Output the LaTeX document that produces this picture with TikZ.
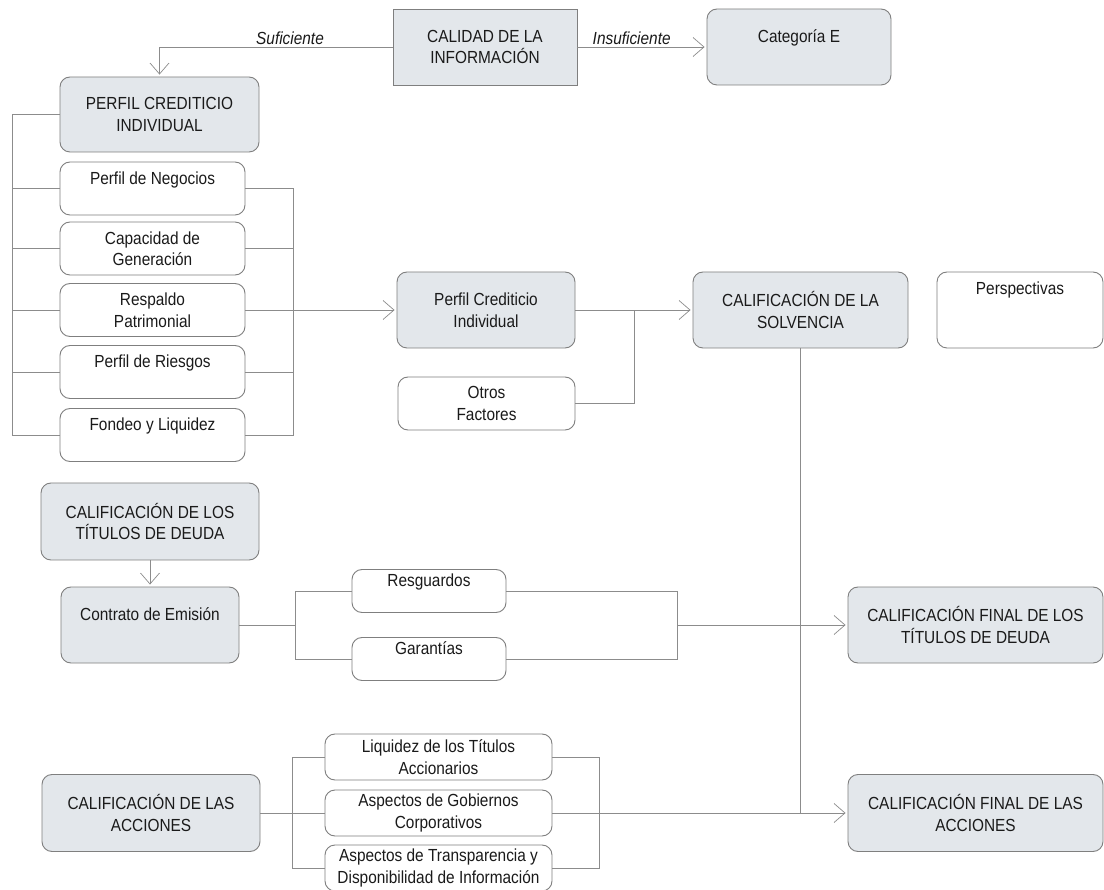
\documentclass[tikz,border=0pt]{standalone}
\usepackage{fontspec}
\setmainfont{Liberation Sans}[FakeStretch=0.88]
\usetikzlibrary{arrows.meta}
\definecolor{boxfill}{HTML}{E3E7EB}
\definecolor{boxedge}{HTML}{7F7F7F}
\definecolor{wire}{HTML}{8C8C8C}
\definecolor{ink}{HTML}{1A1A1A}
\tikzset{
  whitebox/.style={draw=boxedge, line width=0.9pt, rounded corners=10pt, align=center, inner sep=0pt, text=ink},
  graybox/.style={whitebox, fill=boxfill},
  factor/.style={whitebox, minimum width=185, minimum height=53},
  wireline/.style={draw=wire, line width=0.9pt},
  flow/.style={wireline, -{Straight Barb[length=11pt,width=19pt,line width=0.7pt]}, shorten >=2pt},
  branch/.style={font=\fontsize{17.5}{21.5}\selectfont\itshape, text=ink, inner sep=2pt}
}
\begin{document}
\begin{tikzpicture}[x=1pt, y=-1pt, font=\fontsize{17.5}{21.5}\selectfont]
    \path[use as bounding box, fill=white] (0,0) rectangle (1104,890);
    \node (calidad) at (485,47) [graybox, rounded corners=0pt, minimum width=184, minimum height=76] {CALIDAD DE LA\\INFORMACIÓN};
    \node (catE) at (799,47) [graybox, minimum width=184, minimum height=76] {Categoría E\\~};
    \node (pcimain) at (159.5,114.5) [graybox, minimum width=199, minimum height=75] {PERFIL CREDITICIO\\INDIVIDUAL};
    \node (neg) at (152.5,188.5) [factor] {Perfil de Negocios\\~};
    \node (cap) at (152.5,248.5) [factor] {Capacidad de\\Generación};
    \node (resp) at (152.5,310) [factor] {Respaldo\\Patrimonial};
    \node (ries) at (152.5,372) [factor] {Perfil de Riesgos\\~};
    \node (fondeo) at (152.5,435) [factor] {Fondeo y Liquidez\\~};
    \node (pci) at (486,310) [graybox, minimum width=178, minimum height=76] {Perfil Crediticio\\Individual};
    \node (otros) at (486.5,403.5) [whitebox, minimum width=177, minimum height=53] {Otros\\Factores};
    \node (solv) at (800.5,310) [graybox, minimum width=215, minimum height=76] {CALIFICACIÓN DE LA\\SOLVENCIA};
    \node (persp) at (1020,310) [whitebox, minimum width=166, minimum height=76] {Perspectivas\\~\\~};
    \node (deuda) at (150,521.5) [graybox, minimum width=218, minimum height=77] {CALIFICACIÓN DE LOS\\TÍTULOS DE DEUDA};
    \node (contrato) at (150,625) [graybox, minimum width=178, minimum height=76] {Contrato de Emisión\\~};
    \node (resg) at (429,591) [whitebox, minimum width=154, minimum height=43] {Resguardos\\~};
    \node (garan) at (429,659) [whitebox, minimum width=154, minimum height=43] {Garantías\\~};
    \node (finaldeuda) at (975.5,625) [graybox, minimum width=255, minimum height=76] {CALIFICACIÓN FINAL DE LOS\\TÍTULOS DE DEUDA};
    \node (acciones) at (151,813) [graybox, minimum width=218, minimum height=77] {CALIFICACIÓN DE LAS\\ACCIONES};
    \node (liq) at (438.5,757) [whitebox, minimum width=227, minimum height=46] {Liquidez de los Títulos\\Accionarios};
    \node (gob) at (438.5,813) [whitebox, minimum width=227, minimum height=46] {Aspectos de Gobiernos\\Corporativos};
    \node (transp) at (438.5,868) [whitebox, minimum width=227, minimum height=46] {Aspectos de Transparencia y\\Disponibilidad de Información};
    \node (finalacc) at (975.5,813) [graybox, minimum width=255, minimum height=77] {CALIFICACIÓN FINAL DE LAS\\ACCIONES};
    \coordinate (lbx) at (12,0);
    \coordinate (rbx) at (293,0);
    \coordinate (jsolv) at (634,310);
    \coordinate (lbdeuda) at (295,0);
    \coordinate (rbdeuda) at (677,0);
    \coordinate (lbacc) at (292,0);
    \coordinate (rbacc) at (599,0);
    \draw[flow] (calidad.west) -| node (suf) [branch, pos=0.22, above] {Suficiente} (pcimain.north);
    \draw[flow] (calidad.east) -- node (insuf) [branch, pos=0.42, above] {Insuficiente} (catE.west);
    \draw[wireline] (pcimain.west) -- (pcimain.west -| lbx) |- (fondeo.west);
    \foreach \f in {neg, cap, resp, ries} \draw[wireline] (\f.west) -- (\f.west -| lbx);
    \draw[wireline] (neg.east) -- (neg.east -| rbx) |- (fondeo.east);
    \foreach \f in {cap, ries} \draw[wireline] (\f.east) -- (\f.east -| rbx);
    \draw[flow] (resp.east) -- (pci.west);
    \draw[wireline] (otros.east) -| (jsolv);
    \draw[flow] (pci.east) -- (solv.west);
    \draw[wireline] (solv.south) -- (solv.south |- finalacc.west);
    \draw[flow] (deuda.south) -- (contrato.north);
    \draw[wireline] (contrato.east) -- (contrato.east -| lbdeuda);
    \draw[wireline] (resg.west) -- (resg.west -| lbdeuda) |- (garan.west);
    \draw[wireline] (resg.east) -- (resg.east -| rbdeuda) |- (garan.east);
    \draw[flow] (finaldeuda.west -| rbdeuda) -- (finaldeuda.west);
    \draw[wireline] (acciones.east) -- (gob.west);
    \draw[wireline] (liq.west) -- (liq.west -| lbacc) |- (transp.west);
    \draw[wireline] (liq.east) -- (liq.east -| rbacc) |- (transp.east);
    \draw[flow] (gob.east) -- (finalacc.west);
\end{tikzpicture}
\end{document}
